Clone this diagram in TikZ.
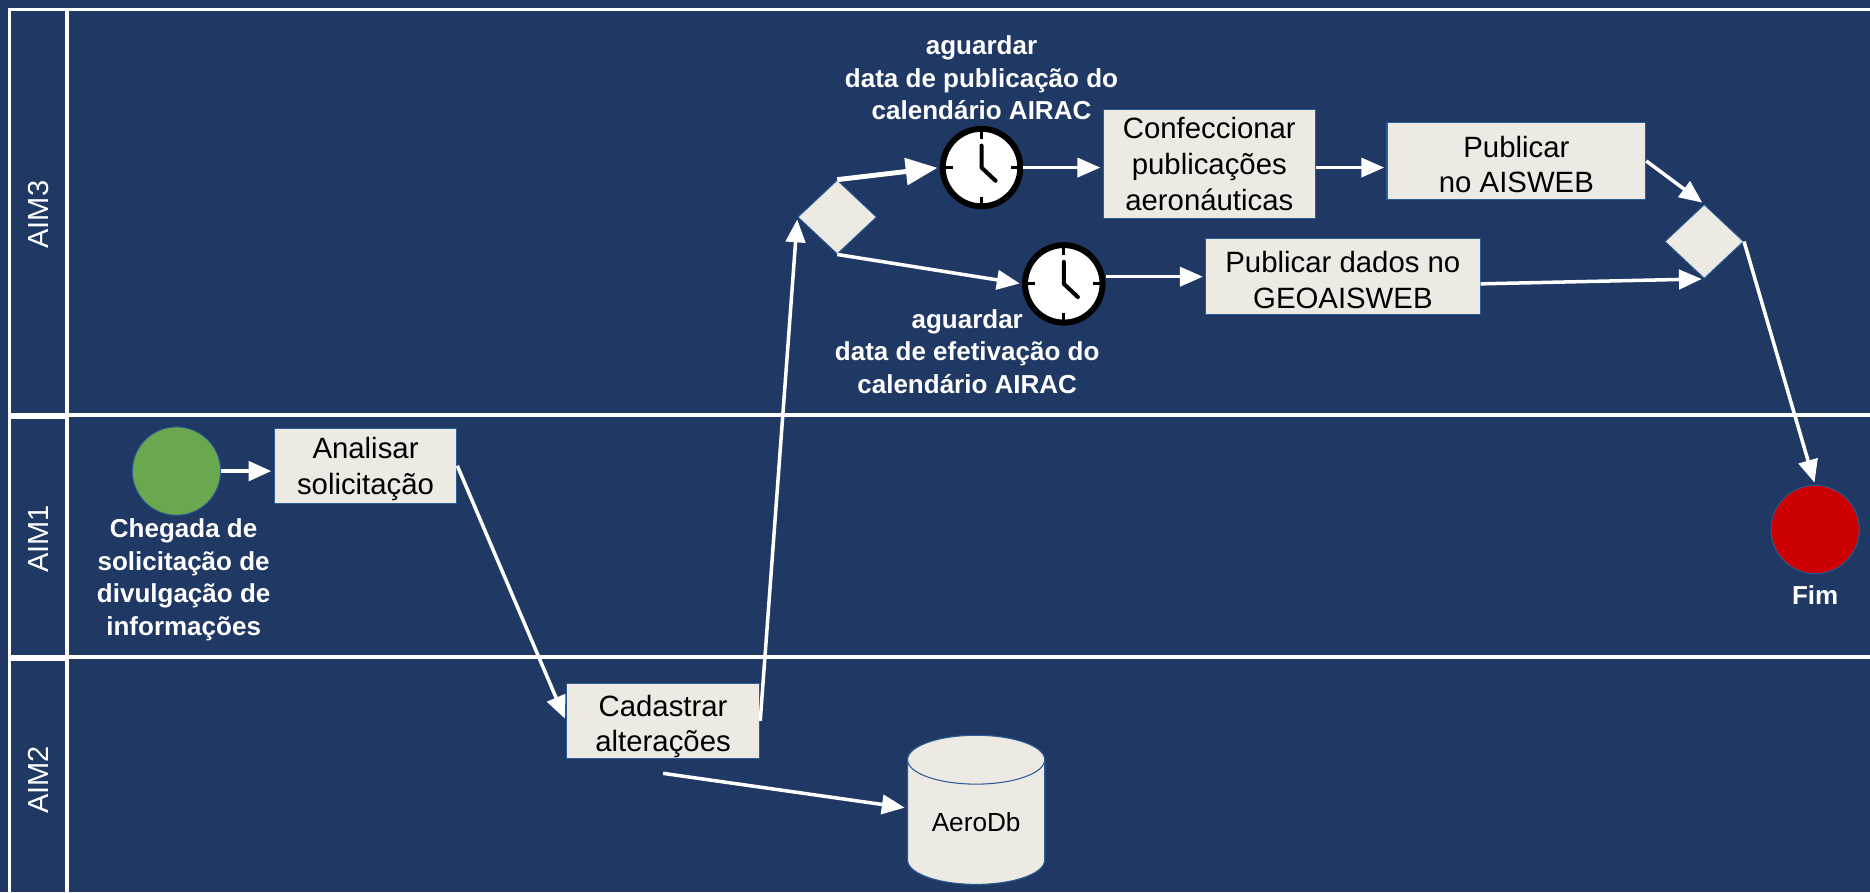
\documentclass[tikz,border=0pt]{standalone}
\usepackage{fontspec}
\setmainfont{Liberation Sans}
\usetikzlibrary{shapes.geometric,arrows.meta}
\definecolor{lanebg}{HTML}{203864}
\definecolor{boxfill}{HTML}{ECEAE2}
\definecolor{boxedge}{HTML}{2A5C96}
\definecolor{startc}{HTML}{6AA84F}
\definecolor{endc}{HTML}{CC0000}
\def\ux{0.02385cm}
\def\dropA{\rule{0pt}{16pt}}
\def\dropB{\rule{0pt}{18.5pt}}
\begin{document}
\begin{tikzpicture}[x=0.02385cm,y=-0.02385cm,lane/.style={draw=white,line width=2.2pt},laneL/.style={text=white,rotate=90,font=\fontsize{16.5}{20}\selectfont},task/.style={shape=rectangle,draw=boxedge,fill=boxfill,line width=0.6pt,inner sep=0pt,align=center,font=\fontsize{16.7}{20.3}\selectfont},gate/.style={shape=diamond,draw=boxedge,fill=boxfill,line width=0.5pt,inner sep=0pt,minimum width=66*\ux,minimum height=62*\ux},ball/.style={shape=circle,draw=boxedge,line width=0.5pt,inner sep=0pt,minimum size=74*\ux},capt/.style={text=white,align=center,font=\bfseries\fontsize{14.8}{18.5}\selectfont},flow/.style={draw=white,line width=2pt,-{Triangle[length=13pt,width=11pt]},shorten >=2*\ux},flowT/.style={flow,line width=1.6pt},flowB/.style={flow,line width=2.8pt,-{Triangle[length=18pt,width=15pt]}},clock/.style={shape=circle,draw=black,fill=white,line width=3.4pt,inner sep=0pt,minimum size=65*\ux,path picture={\begin{scope}[shift={(path picture bounding box.center)}]\draw[black,line width=1.6pt] (24pt,0pt) -- (16.5pt,0pt) (-24pt,0pt) -- (-16.5pt,0pt) (0pt,24pt) -- (0pt,16.5pt) (0pt,-24pt) -- (0pt,-16.5pt);\draw[black,line width=2.3pt,line cap=round,line join=round] (0pt,12.5pt) -- (0pt,0pt) -- (8pt,-7.5pt);\end{scope}}}]
\fill[lanebg] (0,0) rectangle (1568,748);
\useasboundingbox (0,0) rectangle (1568,748);

\draw[lane] (8,748) -- (8,8) -- (1568,8);
\draw[lane] (56,8) -- (56,748);
\draw[lane] (8,348) -- (1568,348);
\draw[lane] (8,551) -- (1568,551);
\draw[lane,line width=3pt] (8,349) -- (55,349);
\draw[lane,line width=3pt] (8,552) -- (55,552);

\node[laneL] (aimC) at (32,180) {AIM3};
\node[laneL] (aimA) at (32,452) {AIM1};
\node[laneL] (aimB) at (32,654) {AIM2};

\node[ball,fill=startc] (start) at (148,395) {};
\node[capt] (startL) at (154,486) {Chegada de\\solicitação de\\divulgação de\\informações};
\node[task,minimum width=153*\ux,minimum height=63*\ux] (analisar) at (306.5,390.5) {\dropA Analisar\\solicitação};
\node[task,minimum width=162*\ux,minimum height=63*\ux] (cadastrar) at (556,604.5) {\dropB Cadastrar\\alterações};
\node[gate] (gateA) at (702,182) {};
\node[clock] (clockA) at (823,140.5) {};
\node[capt] (clockAL) at (823,65.5) {aguardar\\data de publicação do\\calendário AIRAC};
\node[clock] (clockB) at (892,238) {};
\node[capt] (clockBL) at (811,294.5) {aguardar\\data de efetivação do\\calendário AIRAC};
\node[task,minimum width=178*\ux,minimum height=91*\ux] (confec) at (1014,137.5) {Confeccionar\\publicações\\aeronáuticas};
\node[task,minimum width=217*\ux,minimum height=64*\ux] (publicar) at (1271.5,135) {\dropA Publicar\\no AISWEB};
\node[task,minimum width=230*\ux,minimum height=64*\ux] (dados) at (1126,232) {\dropA Publicar dados no\\GEOAISWEB};
\node[gate] (gateB) at (1429,202.5) {};
\node[ball,fill=endc] (fim) at (1522,444) {};
\node[capt] (fimL) at (1522,499) {Fim};
\node[shape=cylinder,shape border rotate=90,aspect=0.55,draw=boxedge,cylinder uses custom fill,cylinder body fill=boxfill,cylinder end fill=boxfill,line width=0.6pt,inner sep=0pt,minimum width=115*\ux,minimum height=125*\ux,font=\fontsize{14.9}{18}\selectfont] (aerodb) at (818.5,689.5) {AeroDb};
\coordinate (dbout) at ([yshift=-12*\ux]cadastrar.south);
\coordinate (dbin) at ([yshift=12*\ux]aerodb.west);

\draw[flow,line width=2.5pt] (start.east) -- (analisar.west |- start.east);
\draw[flow] (analisar.east) -- (cadastrar.west);
\draw[flow] (cadastrar.east) -- (gateA.west);
\draw[flowB] (gateA.north) -- (clockA.west);
\draw[flow] (gateA.south) -- (clockB.west);
\draw[flowT] (clockA.east) -- (confec.west |- clockA.east);
\draw[flowT] (clockB.east |- dados.west) -- (dados.west);
\draw[flowT] (confec.east |- clockA.east) -- (publicar.west |- clockA.east);
\draw[flow] (publicar.east) -- (gateB.north);
\draw[flow] ([yshift=-6*\ux]dados.east) -- (gateB.south);
\draw[flow] (gateB.east) -- (fim.north);
\draw[flow] (dbout) -- (dbin);

\end{tikzpicture}
\end{document}
